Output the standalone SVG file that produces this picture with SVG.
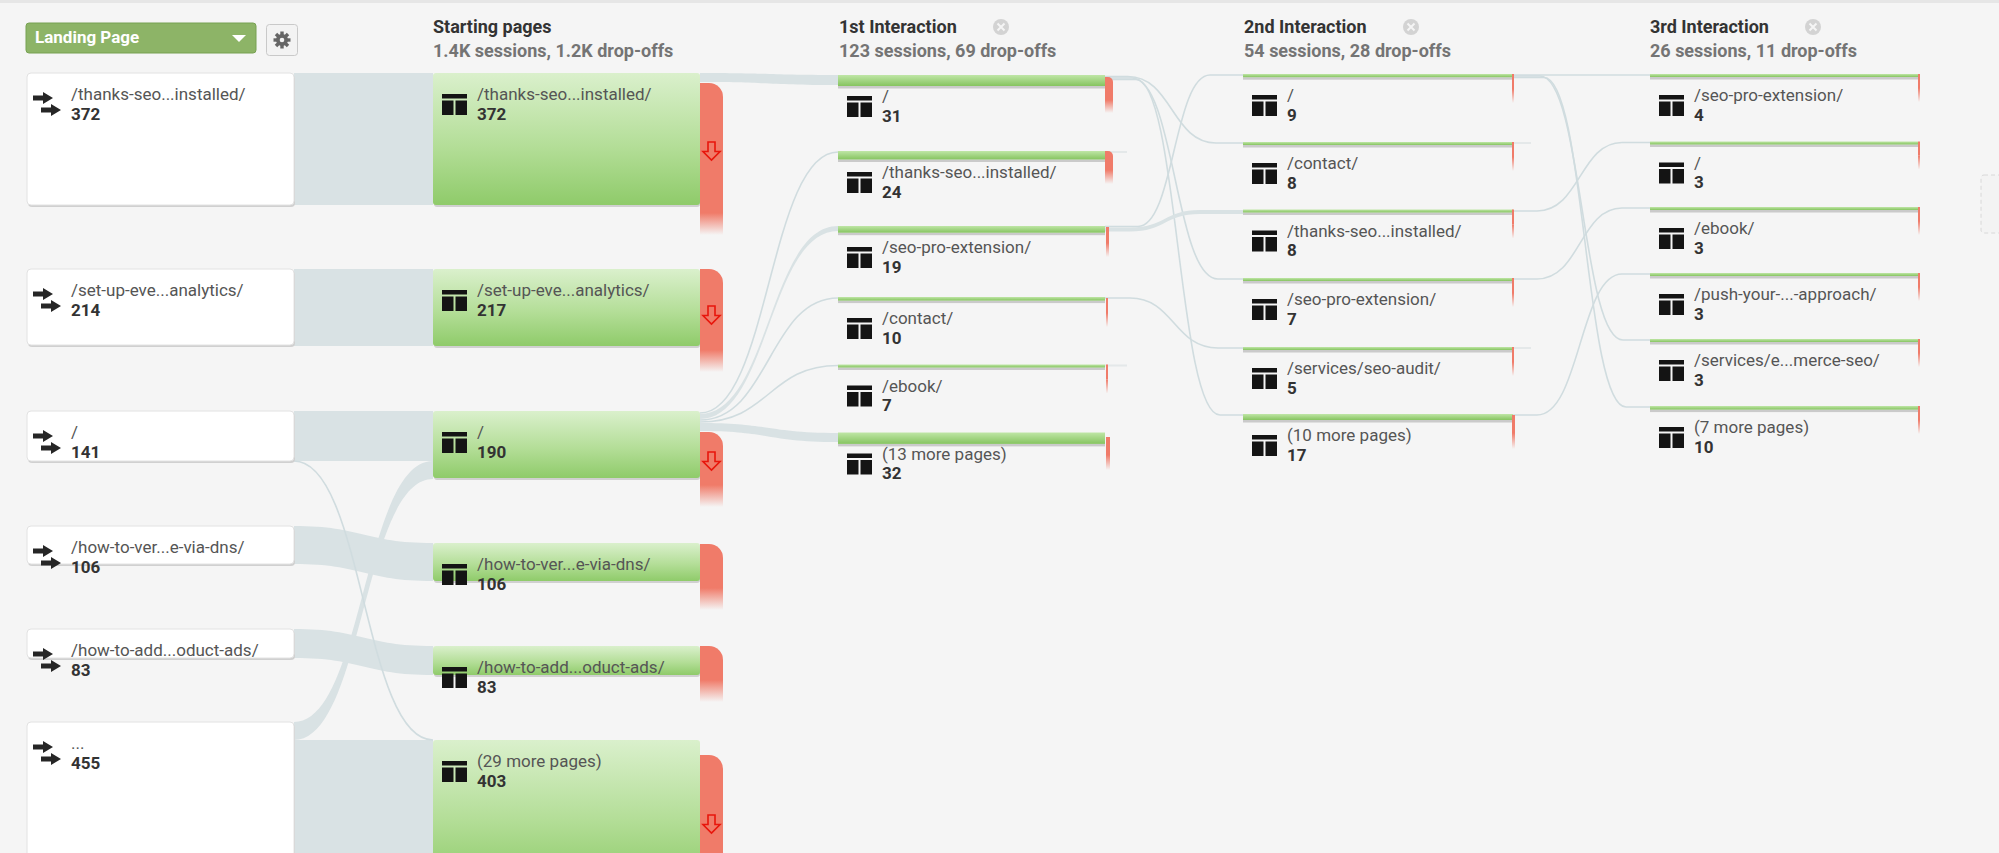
<svg xmlns="http://www.w3.org/2000/svg" width="1999" height="853" viewBox="0 0 1999 853">
<defs>
<style>
text{font-family:Roboto,"Liberation Sans",Arial,sans-serif}
.ttl{font-size:18px;font-weight:bold;fill:#333}
.sub{font-size:18px;font-weight:bold;fill:#747474}
.lbl{font-size:17px;fill:#555}
.num{font-size:17px;font-weight:bold;fill:#333}
.lp{fill:#fff;stroke:#e2e2e2;stroke-width:1}
.shd{fill:#d0d0d0}
.sp{fill:url(#gG)}
.bar{fill:url(#gB)}
.bsh{fill:#cacaca}
.flow{fill:#d9e2e4}
.ln{fill:none;stroke:#d0dcdf;stroke-width:1.6}
.red{fill:#f07b69}
.fade{fill:url(#gR)}
.darr{fill:none;stroke:#e8160c;stroke-width:1.6}
.ico{fill:#141414}
.arr{fill:#262626}
.stub{fill:#e4e8e9}
</style>
<linearGradient id="gG" x1="0" y1="0" x2="0" y2="1">
<stop offset="0" stop-color="#daf0cc"/><stop offset="0.55" stop-color="#b4de98"/><stop offset="1" stop-color="#8fcb6a"/>
</linearGradient>
<linearGradient id="gB" x1="0" y1="0" x2="0" y2="1">
<stop offset="0" stop-color="#bfe6a6"/><stop offset="1" stop-color="#86c460"/>
</linearGradient>
<linearGradient id="gR" x1="0" y1="0" x2="0" y2="1">
<stop offset="0" stop-color="#f07b69" stop-opacity="1"/><stop offset="1" stop-color="#f07b69" stop-opacity="0"/>
</linearGradient>
<g id="tbl"><rect class="ico" x="0" y="0" width="25" height="4.5"/><rect class="ico" x="0" y="6.5" width="11.5" height="14.5"/><rect class="ico" x="13.5" y="6.5" width="11.5" height="14.5"/></g>
<g id="arr2"><path class="arr" d="M0,2.5 H10 V-1 L20,5 L10,11 V7.5 H0 Z"/><path class="arr" d="M8,14.5 H18 V11 L28,17 L18,23 V19.5 H8 Z"/></g>
<path id="dn" class="darr" d="M-3.5,0 H3.5 V9.5 H8.5 L0,18 L-8.5,9.5 H-3.5 Z"/>
</defs>

<rect x="0" y="0" width="1999" height="853" fill="#f5f5f5"/>
<rect x="0" y="0" width="1999" height="3" fill="#e6e6e6"/>

<!-- header controls -->
<g id="landing-page-select">
<rect x="26" y="23" width="230" height="30" rx="3" fill="#8db467" stroke="#77a152"/>
<text x="35" y="43" style="font-size:17px;font-weight:bold;fill:#fff">Landing Page</text>
<polygon points="232,35 246,35 239,42" fill="#fff"/>
</g>
<g id="settings">
<rect x="266.5" y="24.5" width="31" height="31" rx="3" fill="#f3f3f3" stroke="#c9c9c9"/>
<g fill="#666">
<rect x="280.3" y="31.5" width="3.4" height="17"/>
<rect x="280.3" y="31.5" width="3.4" height="17" transform="rotate(45 282 40)"/>
<rect x="280.3" y="31.5" width="3.4" height="17" transform="rotate(90 282 40)"/>
<rect x="280.3" y="31.5" width="3.4" height="17" transform="rotate(135 282 40)"/>
<circle cx="282" cy="40" r="6"/>
</g>
<circle cx="282" cy="40" r="2.3" fill="#f3f3f3"/>
</g>

<!-- column headers -->
<g id="hdr-start"><text class="ttl" x="433" y="33">Starting pages</text><text class="sub" x="433" y="57">1.4K sessions, 1.2K drop-offs</text></g>
<g id="hdr-1st"><text class="ttl" x="839" y="33">1st Interaction</text><text class="sub" x="839" y="57">123 sessions, 69 drop-offs</text>
<circle cx="1001" cy="27" r="8" fill="#d3d3d3"/><path d="M997.5,23.5 L1004.5,30.5 M1004.5,23.5 L997.5,30.5" stroke="#f5f5f5" stroke-width="2"/></g>
<g id="hdr-2nd"><text class="ttl" x="1244" y="33">2nd Interaction</text><text class="sub" x="1244" y="57">54 sessions, 28 drop-offs</text>
<circle cx="1411" cy="27" r="8" fill="#d3d3d3"/><path d="M1407.5,23.5 L1414.5,30.5 M1414.5,23.5 L1407.5,30.5" stroke="#f5f5f5" stroke-width="2"/></g>
<g id="hdr-3rd"><text class="ttl" x="1650" y="33">3rd Interaction</text><text class="sub" x="1650" y="57">26 sessions, 11 drop-offs</text>
<circle cx="1813" cy="27" r="8" fill="#d3d3d3"/><path d="M1809.5,23.5 L1816.5,30.5 M1816.5,23.5 L1809.5,30.5" stroke="#f5f5f5" stroke-width="2"/></g>

<!-- connectors -->
<g id="connectors">
<path class="flow" d="M294,73 H433 V205 H294 Z"/>
<path class="flow" d="M294,269 H433 V346 H294 Z"/>
<path class="flow" d="M294,411 H433 V461 H294 Z"/>
<path class="flow" d="M294,722 C363.5,722 363.5,461 433,461 L433,479 C363.5,479 363.5,740 294,740 Z"/>
<path class="flow" d="M294,526 C363.5,526 363.5,543 433,543 L433,581 C363.5,581 363.5,564 294,564 Z"/>
<path class="flow" d="M294,629 C363.5,629 363.5,646 433,646 L433,675 C363.5,675 363.5,658 294,658 Z"/>
<path class="flow" d="M294,740 H433 V853 H294 Z"/>
<path class="ln" d="M294,461 C363.5,461 363.5,740 433,740"/>

<path class="flow" d="M700,73 C769,73 769,75 838,75 L838,85 C769,85 769,82 700,82 Z"/>
<path class="ln" d="M700,413 C769,413 769,152 838,152"/>
<path class="flow" d="M700,414 C769,414 769,226 838,226 L838,231 C769,231 769,419 700,419 Z"/>
<path class="ln" stroke-width="2" d="M700,420 C769,420 769,298 838,298"/>
<path class="ln" d="M700,422 C769,422 769,365.5 838,365.5"/>
<path class="flow" d="M700,423 C769,423 769,433 838,433 L838,442 C769,442 769,431 700,431 Z"/>

<path class="ln" d="M1105,76.5 H1128 C1172,76.5 1172,143 1216,143 H1243"/>
<path class="ln" d="M1105,78 H1132 C1175,78 1175,279 1218,279 H1243"/>
<path class="ln" d="M1105,79.5 H1136 C1178,79.5 1178,415 1220,415 H1243"/>
<path class="ln" d="M1105,226.5 H1138 C1174,226.5 1174,75 1210,75 H1243"/>
<path class="flow" d="M1105,227.5 H1130 C1165,227.5 1165,210 1200,210 H1243 V214 H1200 C1165,214 1165,231.5 1130,231.5 H1105 Z"/>
<path class="ln" d="M1105,298 H1130 C1174,298 1174,348 1218,348 H1243"/>
<rect class="stub" x="1105" y="151" width="22" height="2"/>
<rect class="stub" x="1105" y="364.5" width="22" height="2"/>

<path class="ln" d="M1513,75 H1650"/>
<path class="ln" d="M1513,76 H1540 C1582,76 1582,340 1623,340 H1650"/>
<path class="ln" d="M1513,77.5 H1544 C1585,77.5 1585,407 1626,407 H1650"/>
<path class="ln" d="M1513,211 H1537 C1580,211 1580,142.5 1622,142.5 H1650"/>
<path class="ln" d="M1513,279 H1537 C1580,279 1580,208 1622,208 H1650"/>
<path class="ln" d="M1513,415 H1537 C1580,415 1580,274 1622,274 H1650"/>
<rect class="stub" x="1513" y="142" width="18" height="2"/>
<rect class="stub" x="1513" y="347" width="18" height="2"/>
</g>

<!-- Landing pages -->
<g id="lp-thanks"><rect class="shd" x="28" y="75" width="267" height="132" rx="4"/><rect class="lp" x="27" y="73" width="267" height="132" rx="4"/><use href="#arr2" x="33" y="93"/><text class="lbl" x="71" y="100">/thanks-seo...installed/</text><text class="num" x="71" y="119.5">372</text></g>
<g id="lp-setup"><rect class="shd" x="28" y="271" width="267" height="76" rx="4"/><rect class="lp" x="27" y="269" width="267" height="76" rx="4"/><use href="#arr2" x="33" y="289"/><text class="lbl" x="71" y="296">/set-up-eve...analytics/</text><text class="num" x="71" y="315.5">214</text></g>
<g id="lp-root"><rect class="shd" x="28" y="413" width="267" height="50" rx="4"/><rect class="lp" x="27" y="411" width="267" height="50" rx="4"/><use href="#arr2" x="33" y="431"/><text class="lbl" x="71" y="438">/</text><text class="num" x="71" y="457.5">141</text></g>
<g id="lp-howver"><rect class="shd" x="28" y="528" width="267" height="38" rx="4"/><rect class="lp" x="27" y="526" width="267" height="38" rx="4"/><use href="#arr2" x="33" y="546"/><text class="lbl" x="71" y="553">/how-to-ver...e-via-dns/</text><text class="num" x="71" y="572.5">106</text></g>
<g id="lp-howadd"><rect class="shd" x="28" y="631" width="267" height="29" rx="4"/><rect class="lp" x="27" y="629" width="267" height="29" rx="4"/><use href="#arr2" x="33" y="649"/><text class="lbl" x="71" y="656">/how-to-add...oduct-ads/</text><text class="num" x="71" y="675.5">83</text></g>
<g id="lp-more"><rect class="shd" x="28" y="724" width="267" height="150" rx="4"/><rect class="lp" x="27" y="722" width="267" height="150" rx="4"/><use href="#arr2" x="33" y="742"/><text class="lbl" x="71" y="749">...</text><text class="num" x="71" y="768.5">455</text></g>

<!-- Starting pages -->
<g id="sp-thanks"><rect class="shd" x="434" y="75" width="266" height="132" rx="3"/><rect class="sp" x="433" y="73" width="267" height="132" rx="3"/><use href="#tbl" x="442" y="94"/><text class="lbl" x="477" y="100">/thanks-seo...installed/</text><text class="num" x="477" y="119.5">372</text>
<path class="red" d="M700,83 H709 A14,14 0 0 1 723,97 V213 H700 Z"/><rect class="fade" x="700" y="213" width="23" height="22"/><use href="#dn" x="711.5" y="142"/></g>
<g id="sp-setup"><rect class="shd" x="434" y="271" width="266" height="77" rx="3"/><rect class="sp" x="433" y="269" width="267" height="77" rx="3"/><use href="#tbl" x="442" y="290"/><text class="lbl" x="477" y="296">/set-up-eve...analytics/</text><text class="num" x="477" y="315.5">217</text>
<path class="red" d="M700,269 H709 A14,14 0 0 1 723,283 V350 H700 Z"/><rect class="fade" x="700" y="350" width="23" height="22"/><use href="#dn" x="711.5" y="306"/></g>
<g id="sp-root"><rect class="shd" x="434" y="413" width="266" height="67" rx="3"/><rect class="sp" x="433" y="411" width="267" height="67" rx="3"/><use href="#tbl" x="442" y="432"/><text class="lbl" x="477" y="438">/</text><text class="num" x="477" y="457.5">190</text>
<path class="red" d="M700,432 H709 A14,14 0 0 1 723,446 V485 H700 Z"/><rect class="fade" x="700" y="485" width="23" height="22"/><use href="#dn" x="711.5" y="452"/></g>
<g id="sp-howver"><rect class="shd" x="434" y="545" width="266" height="38" rx="3"/><rect class="sp" x="433" y="543" width="267" height="38" rx="3"/><use href="#tbl" x="442" y="564"/><text class="lbl" x="477" y="570">/how-to-ver...e-via-dns/</text><text class="num" x="477" y="589.5">106</text>
<path class="red" d="M700,544 H709 A14,14 0 0 1 723,558 V588 H700 Z"/><rect class="fade" x="700" y="588" width="23" height="22"/></g>
<g id="sp-howadd"><rect class="shd" x="434" y="648" width="266" height="29" rx="3"/><rect class="sp" x="433" y="646" width="267" height="29" rx="3"/><use href="#tbl" x="442" y="667"/><text class="lbl" x="477" y="673">/how-to-add...oduct-ads/</text><text class="num" x="477" y="692.5">83</text>
<path class="red" d="M700,646 H709 A14,14 0 0 1 723,660 V680 H700 Z"/><rect class="fade" x="700" y="680" width="23" height="22"/></g>
<g id="sp-more"><rect class="shd" x="434" y="742" width="266" height="143" rx="3"/><rect class="sp" x="433" y="740" width="267" height="143" rx="3"/><use href="#tbl" x="442" y="761"/><text class="lbl" x="477" y="767">(29 more pages)</text><text class="num" x="477" y="786.5">403</text>
<path class="red" d="M700,755 H709 A14,14 0 0 1 723,769 V853 H700 Z"/><use href="#dn" x="711.5" y="815"/></g>

<!-- 1st Interaction -->
<g id="i1-root"><rect class="bsh" x="838" y="86" width="267" height="2.5"/><rect class="bar" x="838" y="75" width="267" height="11"/><use href="#tbl" x="847" y="96"/><text class="lbl" x="882" y="102">/</text><text class="num" x="882" y="121.5">31</text>
<path class="red" d="M1105,77 H1108 A5,5 0 0 1 1113,82 V100 H1105 Z"/><rect class="fade" x="1105" y="100" width="8" height="13"/></g>
<g id="i1-thanks"><rect class="bsh" x="838" y="159.5" width="267" height="2.5"/><rect class="bar" x="838" y="151" width="267" height="8.5"/><use href="#tbl" x="847" y="172"/><text class="lbl" x="882" y="178">/thanks-seo...installed/</text><text class="num" x="882" y="197.5">24</text>
<path class="red" d="M1105,151 H1108 A5,5 0 0 1 1113,156 V170 H1105 Z"/><rect class="fade" x="1105" y="170" width="8" height="14"/></g>
<g id="i1-seopro"><rect class="bsh" x="838" y="232.7" width="267" height="2.5"/><rect class="bar" x="838" y="226" width="267" height="6.7"/><use href="#tbl" x="847" y="247"/><text class="lbl" x="882" y="253">/seo-pro-extension/</text><text class="num" x="882" y="272.5">19</text>
<rect class="red" x="1106" y="227" width="3" height="16"/><rect class="fade" x="1106" y="243" width="3" height="14"/></g>
<g id="i1-contact"><rect class="bsh" x="838" y="300.6" width="267" height="2.5"/><rect class="bar" x="838" y="297" width="267" height="3.6"/><use href="#tbl" x="847" y="318"/><text class="lbl" x="882" y="324">/contact/</text><text class="num" x="882" y="343.5">10</text>
<rect class="red" x="1106" y="298" width="2" height="15"/><rect class="fade" x="1106" y="313" width="2" height="14"/></g>
<g id="i1-ebook"><rect class="bsh" x="838" y="367.5" width="267" height="2.5"/><rect class="bar" x="838" y="364.5" width="267" height="3"/><use href="#tbl" x="847" y="385.5"/><text class="lbl" x="882" y="391.5">/ebook/</text><text class="num" x="882" y="411">7</text>
<rect class="red" x="1106" y="364.5" width="2" height="15"/><rect class="fade" x="1106" y="379.5" width="2" height="14"/></g>
<g id="i1-more"><rect class="bsh" x="838" y="443.9" width="267" height="2.5"/><rect class="bar" x="838" y="432.5" width="267" height="11.4"/><use href="#tbl" x="847" y="453.5"/><text class="lbl" x="882" y="459.5">(13 more pages)</text><text class="num" x="882" y="479">32</text>
<rect class="red" x="1106" y="437" width="4" height="18"/><rect class="fade" x="1106" y="455" width="4" height="15"/></g>

<!-- 2nd Interaction -->
<g id="i2-root"><rect class="bsh" x="1243" y="77.2" width="270" height="2.5"/><rect class="bar" x="1243" y="74" width="270" height="3.2"/><use href="#tbl" x="1252" y="95"/><text class="lbl" x="1287" y="101">/</text><text class="num" x="1287" y="120.5">9</text>
<rect class="red" x="1512" y="74" width="2" height="15"/><rect class="fade" x="1512" y="89" width="2" height="14"/></g>
<g id="i2-contact"><rect class="bsh" x="1243" y="145" width="270" height="2.5"/><rect class="bar" x="1243" y="142" width="270" height="3"/><use href="#tbl" x="1252" y="163"/><text class="lbl" x="1287" y="169">/contact/</text><text class="num" x="1287" y="188.5">8</text>
<rect class="red" x="1512" y="142" width="2" height="15"/><rect class="fade" x="1512" y="157" width="2" height="14"/></g>
<g id="i2-thanks"><rect class="bsh" x="1243" y="212.5" width="270" height="2.5"/><rect class="bar" x="1243" y="209.5" width="270" height="3"/><use href="#tbl" x="1252" y="230.5"/><text class="lbl" x="1287" y="236.5">/thanks-seo...installed/</text><text class="num" x="1287" y="256">8</text>
<rect class="red" x="1512" y="209.5" width="2" height="15"/><rect class="fade" x="1512" y="224.5" width="2" height="14"/></g>
<g id="i2-seopro"><rect class="bsh" x="1243" y="281" width="270" height="2.5"/><rect class="bar" x="1243" y="278" width="270" height="3"/><use href="#tbl" x="1252" y="299"/><text class="lbl" x="1287" y="305">/seo-pro-extension/</text><text class="num" x="1287" y="324.5">7</text>
<rect class="red" x="1512" y="278" width="2" height="15"/><rect class="fade" x="1512" y="293" width="2" height="14"/></g>
<g id="i2-audit"><rect class="bsh" x="1243" y="350" width="270" height="2.5"/><rect class="bar" x="1243" y="347" width="270" height="3"/><use href="#tbl" x="1252" y="368"/><text class="lbl" x="1287" y="374">/services/seo-audit/</text><text class="num" x="1287" y="393.5">5</text>
<rect class="red" x="1512" y="347" width="2" height="15"/><rect class="fade" x="1512" y="362" width="2" height="14"/></g>
<g id="i2-more"><rect class="bsh" x="1243" y="420" width="270" height="2.5"/><rect class="bar" x="1243" y="414" width="270" height="6"/><use href="#tbl" x="1252" y="435"/><text class="lbl" x="1287" y="441">(10 more pages)</text><text class="num" x="1287" y="460.5">17</text>
<rect class="red" x="1512" y="415" width="3" height="18"/><rect class="fade" x="1512" y="433" width="3" height="16"/></g>

<!-- 3rd Interaction -->
<g id="i3-seopro"><rect class="bsh" x="1650" y="77" width="268" height="2.5"/><rect class="bar" x="1650" y="74" width="268" height="3"/><use href="#tbl" x="1659" y="95"/><text class="lbl" x="1694" y="101">/seo-pro-extension/</text><text class="num" x="1694" y="120.5">4</text>
<rect class="red" x="1918" y="74" width="2" height="14"/><rect class="fade" x="1918" y="88" width="2" height="14"/></g>
<g id="i3-root"><rect class="bsh" x="1650" y="144.5" width="268" height="2.5"/><rect class="bar" x="1650" y="141.5" width="268" height="3"/><use href="#tbl" x="1659" y="162.5"/><text class="lbl" x="1694" y="168.5">/</text><text class="num" x="1694" y="188">3</text>
<rect class="red" x="1918" y="141.5" width="2" height="14"/><rect class="fade" x="1918" y="155.5" width="2" height="14"/></g>
<g id="i3-ebook"><rect class="bsh" x="1650" y="210" width="268" height="2.5"/><rect class="bar" x="1650" y="207" width="268" height="3"/><use href="#tbl" x="1659" y="228"/><text class="lbl" x="1694" y="234">/ebook/</text><text class="num" x="1694" y="253.5">3</text>
<rect class="red" x="1918" y="207" width="2" height="14"/><rect class="fade" x="1918" y="221" width="2" height="14"/></g>
<g id="i3-push"><rect class="bsh" x="1650" y="276" width="268" height="2.5"/><rect class="bar" x="1650" y="273" width="268" height="3"/><use href="#tbl" x="1659" y="294"/><text class="lbl" x="1694" y="300">/push-your-...-approach/</text><text class="num" x="1694" y="319.5">3</text>
<rect class="red" x="1918" y="273" width="2" height="14"/><rect class="fade" x="1918" y="287" width="2" height="14"/></g>
<g id="i3-ecom"><rect class="bsh" x="1650" y="342" width="268" height="2.5"/><rect class="bar" x="1650" y="339" width="268" height="3"/><use href="#tbl" x="1659" y="360"/><text class="lbl" x="1694" y="366">/services/e...merce-seo/</text><text class="num" x="1694" y="385.5">3</text>
<rect class="red" x="1918" y="339" width="2" height="14"/><rect class="fade" x="1918" y="353" width="2" height="14"/></g>
<g id="i3-more"><rect class="bsh" x="1650" y="409.6" width="268" height="2.5"/><rect class="bar" x="1650" y="406" width="268" height="3.6"/><use href="#tbl" x="1659" y="427"/><text class="lbl" x="1694" y="433">(7 more pages)</text><text class="num" x="1694" y="452.5">10</text>
<rect class="red" x="1918" y="406" width="2" height="14"/><rect class="fade" x="1918" y="420" width="2" height="14"/></g>

<g id="add-step"><rect x="1981" y="175" width="30" height="58" rx="3" fill="#f3f3f3" stroke="#d8d8d8" stroke-dasharray="4 3"/></g>
</svg>
